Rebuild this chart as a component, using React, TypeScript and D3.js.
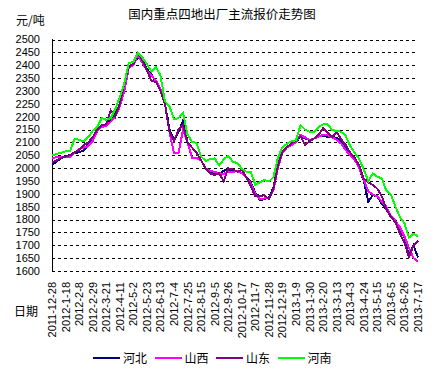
import * as d3 from "d3";

const tickLabels = [
  "2011-12-28", "2012-1-18", "2012-2-8", "2012-2-29", "2012-3-21", "2012-4-11",
  "2012-5-2", "2012-5-23", "2012-6-13", "2012-7-4", "2012-7-25", "2012-8-15",
  "2012-9-5", "2012-9-26", "2012-10-17", "2012-11-7", "2012-11-28", "2012-12-19",
  "2013-1-9", "2013-1-30", "2013-2-20", "2013-3-13", "2013-4-3", "2013-4-24",
  "2013-5-15", "2013-6-5", "2013-6-26", "2013-7-17",
];

const yTicks = d3.range(1600, 2501, 50);

// weekly readings, starting 2011-12-28
const hebei = [
  2012, 2025, 2038, 2045, 2052, 2058, 2062, 2068, 2090, 2110, 2150, 2160, 2170, 2185,
  2210, 2250, 2310, 2390, 2405, 2430, 2420, 2385, 2365, 2335, 2300, 2250, 2150, 2110,
  2140, 2185, 2100, 2080, 2060, 2030, 2000, 1985, 1978, 1975, 1990, 1995, 1990, 1990,
  1980, 1965, 1945, 1905, 1875, 1880, 1885, 1925, 2010, 2060, 2080, 2090, 2100, 2125,
  2115, 2110, 2115, 2125, 2125, 2122, 2122, 2118, 2100, 2080, 2058, 2040, 2000, 1950,
  1870, 1895, 1890, 1860, 1840, 1815, 1795, 1760, 1730, 1660, 1700, 1652,
];
const shanxi = [
  2040, 2042, 2045, 2045, 2045, 2060, 2075, 2080, 2085, 2105, 2145, 2160, 2165, 2180,
  2200, 2240, 2300, 2390, 2400, 2440, 2410, 2380, 2360, 2340, 2310, 2250, 2140, 2058,
  2058, 2150, 2100, 2040, 2040, 2030, 2000, 1990, 1985, 1980, 1978, 1986, 1986, 1988,
  1980, 1965, 1940, 1900, 1880, 1882, 1882, 1915, 2000, 2060, 2080, 2090, 2100, 2130,
  2120, 2110, 2115, 2122, 2130, 2128, 2120, 2110, 2095, 2070, 2050, 2032, 2000, 1955,
  1910, 1898, 1890, 1870, 1850, 1815, 1795, 1770, 1735, 1690, 1650, 1637,
];
const shandong = [
  2022, 2030, 2040, 2045, 2050, 2062, 2070, 2090, 2100, 2120, 2150, 2168, 2170, 2225,
  2200, 2250, 2330, 2395, 2405, 2448, 2420, 2380, 2340, 2335, 2300, 2250, 2140, 2105,
  2150, 2168, 2100, 2080, 2060, 2030, 2000, 1980, 1973, 1980, 1950, 1999, 1995, 1986,
  1993, 1965, 1930, 1890, 1890, 1895, 1880, 1920, 2010, 2065, 2082, 2095, 2108, 2125,
  2090, 2105, 2115, 2130, 2155, 2140, 2120, 2140, 2112, 2090, 2060, 2040, 2010, 1960,
  1945, 1935, 1920, 1890, 1840, 1810, 1790, 1745, 1710, 1655, 1700, 1718,
];
const henan = [
  2050, 2055, 2060, 2065, 2066, 2115, 2110, 2105, 2120, 2145, 2160, 2195, 2188, 2195,
  2230, 2275, 2330, 2410, 2412, 2450, 2430, 2405, 2375, 2395, 2360, 2260, 2240, 2190,
  2195, 2215, 2130, 2103, 2098, 2045, 2028, 2035, 2038, 2010, 2035, 2048, 2025, 2020,
  1998, 1986, 1986, 1935, 1945, 1954, 1948, 1965, 2040, 2082, 2095, 2105, 2108, 2168,
  2150, 2142, 2142, 2160, 2170, 2170, 2148, 2145, 2142, 2125, 2085, 2060, 2035, 1995,
  1950, 1980, 1967, 1960, 1912, 1898, 1850, 1810, 1785, 1730, 1745, 1735,
];

const series = [
  { name: "河北", color: "#000080", values: hebei },
  { name: "山西", color: "#ff00ff", values: shanxi },
  { name: "山东", color: "#800080", values: shandong },
  { name: "河南", color: "#00ff00", values: henan },
];

const parse = d3.timeParse("%Y-%-m-%-d");
const tickDates = tickLabels.map((s) => parse(s) as Date);
const start = tickDates[0];
const end = tickDates[tickDates.length - 1];
const weekDates = d3.timeDay.range(start, d3.timeDay.offset(end, 1), 7);

const cjk = "'Noto Sans CJK SC', sans-serif";
const latin = "'Liberation Sans', Arial, sans-serif";

export default function App() {
  const width = 433;
  const height = 370;

  const x = d3.scaleTime().domain([start, end]).range([52, 418]);
  const y = d3.scaleLinear().domain([1600, 2500]).range([271, 39.6]);

  const line = d3
    .line<number>()
    .x((_, i) => x(weekDates[i]))
    .y((d) => y(d));

  return (
    <svg
      width={width}
      height={height}
      style={{ position: "absolute", left: 0, top: 0, background: "#fff" }}
    >
      <text x={222} y={19} textAnchor="middle" fontFamily={cjk} fontSize={12.5}>
        国内重点四地出厂主流报价走势图
      </text>
      <text x={16} y={25} fontFamily={cjk} fontSize={12}>
        元/吨
      </text>

      {yTicks.map((t) => (
        <g key={t}>
          <line
            x1={52}
            x2={418}
            y1={Math.round(y(t)) + 0.5}
            y2={Math.round(y(t)) + 0.5}
            stroke="#000"
            strokeWidth={1}
            strokeDasharray="3,3"
            shapeRendering="crispEdges"
          />
          <text
            x={40}
            y={y(t)}
            dy="0.35em"
            textAnchor="end"
            fontFamily={latin}
            fontSize={11}
          >
            {t}
          </text>
        </g>
      ))}
      <line
        x1={52.5}
        x2={52.5}
        y1={39}
        y2={272}
        stroke="#000"
        strokeWidth={1}
        shapeRendering="crispEdges"
      />

      {tickDates.map((d, i) => (
        <text
          key={tickLabels[i]}
          transform={`translate(${x(d) + 4},282) rotate(-90)`}
          textAnchor="end"
          fontFamily={latin}
          fontSize={11}
        >
          {tickLabels[i]}
        </text>
      ))}
      <text x={14} y={316} fontFamily={cjk} fontSize={12}>
        日期
      </text>

      {series.map((s) => (
        <path
          key={s.name}
          d={line(s.values) ?? ""}
          fill="none"
          stroke={s.color}
          strokeWidth={2}
          shapeRendering="crispEdges"
        />
      ))}

      {series.map((s, i) => (
        <g key={s.name} transform={`translate(${93 + i * 61.5},358)`}>
          <line
            x1={0}
            x2={27}
            y1={0}
            y2={0}
            stroke={s.color}
            strokeWidth={2}
            shapeRendering="crispEdges"
          />
          <text x={30} y={0} dy="0.38em" fontFamily={cjk} fontSize={12}>
            {s.name}
          </text>
        </g>
      ))}
    </svg>
  );
}
